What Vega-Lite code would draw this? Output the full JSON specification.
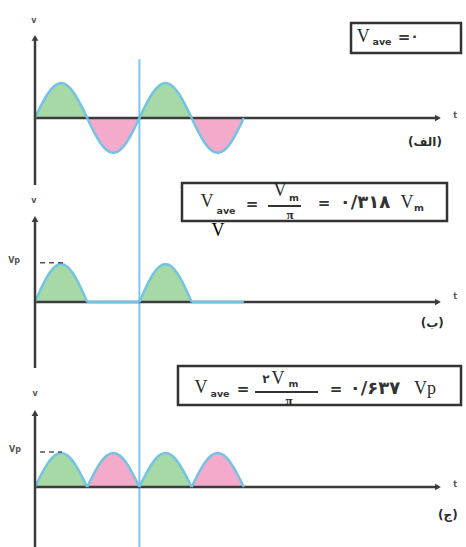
{
  "$schema": "https://vega.github.io/schema/vega-lite/v6.json",
  "padding": 0,
  "background": "white",
  "spacing": 0,
  "bounds": "flush",
  "config": {"view": {"stroke": null}, "axis": {"disable": true}, "legend": {"disable": true}},
  "datasets": {
    "wave": [
      {"panel":"a","hump":1,"phase":"first","t":0,"v":0},{"panel":"a","hump":1,"phase":"first","t":0.125,"v":0.3827},{"panel":"a","hump":1,"phase":"first","t":0.25,"v":0.7071},{"panel":"a","hump":1,"phase":"first","t":0.375,"v":0.9239},{"panel":"a","hump":1,"phase":"first","t":0.5,"v":1},{"panel":"a","hump":1,"phase":"first","t":0.625,"v":0.9239},{"panel":"a","hump":1,"phase":"first","t":0.75,"v":0.7071},{"panel":"a","hump":1,"phase":"first","t":0.875,"v":0.3827},{"panel":"a","hump":1,"phase":"first","t":1,"v":0},
      {"panel":"a","hump":2,"phase":"second","t":1,"v":0},{"panel":"a","hump":2,"phase":"second","t":1.125,"v":-0.3827},{"panel":"a","hump":2,"phase":"second","t":1.25,"v":-0.7071},{"panel":"a","hump":2,"phase":"second","t":1.375,"v":-0.9239},{"panel":"a","hump":2,"phase":"second","t":1.5,"v":-1},{"panel":"a","hump":2,"phase":"second","t":1.625,"v":-0.9239},{"panel":"a","hump":2,"phase":"second","t":1.75,"v":-0.7071},{"panel":"a","hump":2,"phase":"second","t":1.875,"v":-0.3827},{"panel":"a","hump":2,"phase":"second","t":2,"v":0},
      {"panel":"a","hump":3,"phase":"first","t":2,"v":0},{"panel":"a","hump":3,"phase":"first","t":2.125,"v":0.3827},{"panel":"a","hump":3,"phase":"first","t":2.25,"v":0.7071},{"panel":"a","hump":3,"phase":"first","t":2.375,"v":0.9239},{"panel":"a","hump":3,"phase":"first","t":2.5,"v":1},{"panel":"a","hump":3,"phase":"first","t":2.625,"v":0.9239},{"panel":"a","hump":3,"phase":"first","t":2.75,"v":0.7071},{"panel":"a","hump":3,"phase":"first","t":2.875,"v":0.3827},{"panel":"a","hump":3,"phase":"first","t":3,"v":0},
      {"panel":"a","hump":4,"phase":"second","t":3,"v":0},{"panel":"a","hump":4,"phase":"second","t":3.125,"v":-0.3827},{"panel":"a","hump":4,"phase":"second","t":3.25,"v":-0.7071},{"panel":"a","hump":4,"phase":"second","t":3.375,"v":-0.9239},{"panel":"a","hump":4,"phase":"second","t":3.5,"v":-1},{"panel":"a","hump":4,"phase":"second","t":3.625,"v":-0.9239},{"panel":"a","hump":4,"phase":"second","t":3.75,"v":-0.7071},{"panel":"a","hump":4,"phase":"second","t":3.875,"v":-0.3827},{"panel":"a","hump":4,"phase":"second","t":4,"v":0},

      {"panel":"b","hump":1,"phase":"first","t":0,"v":0},{"panel":"b","hump":1,"phase":"first","t":0.125,"v":0.3827},{"panel":"b","hump":1,"phase":"first","t":0.25,"v":0.7071},{"panel":"b","hump":1,"phase":"first","t":0.375,"v":0.9239},{"panel":"b","hump":1,"phase":"first","t":0.5,"v":1},{"panel":"b","hump":1,"phase":"first","t":0.625,"v":0.9239},{"panel":"b","hump":1,"phase":"first","t":0.75,"v":0.7071},{"panel":"b","hump":1,"phase":"first","t":0.875,"v":0.3827},{"panel":"b","hump":1,"phase":"first","t":1,"v":0},
      {"panel":"b","hump":2,"phase":"none","t":1,"v":0},{"panel":"b","hump":2,"phase":"none","t":2,"v":0},
      {"panel":"b","hump":3,"phase":"first","t":2,"v":0},{"panel":"b","hump":3,"phase":"first","t":2.125,"v":0.3827},{"panel":"b","hump":3,"phase":"first","t":2.25,"v":0.7071},{"panel":"b","hump":3,"phase":"first","t":2.375,"v":0.9239},{"panel":"b","hump":3,"phase":"first","t":2.5,"v":1},{"panel":"b","hump":3,"phase":"first","t":2.625,"v":0.9239},{"panel":"b","hump":3,"phase":"first","t":2.75,"v":0.7071},{"panel":"b","hump":3,"phase":"first","t":2.875,"v":0.3827},{"panel":"b","hump":3,"phase":"first","t":3,"v":0},
      {"panel":"b","hump":4,"phase":"none","t":3,"v":0},{"panel":"b","hump":4,"phase":"none","t":4,"v":0},

      {"panel":"c","hump":1,"phase":"first","t":0,"v":0},{"panel":"c","hump":1,"phase":"first","t":0.125,"v":0.3827},{"panel":"c","hump":1,"phase":"first","t":0.25,"v":0.7071},{"panel":"c","hump":1,"phase":"first","t":0.375,"v":0.9239},{"panel":"c","hump":1,"phase":"first","t":0.5,"v":1},{"panel":"c","hump":1,"phase":"first","t":0.625,"v":0.9239},{"panel":"c","hump":1,"phase":"first","t":0.75,"v":0.7071},{"panel":"c","hump":1,"phase":"first","t":0.875,"v":0.3827},{"panel":"c","hump":1,"phase":"first","t":1,"v":0},
      {"panel":"c","hump":2,"phase":"second","t":1,"v":0},{"panel":"c","hump":2,"phase":"second","t":1.125,"v":0.3827},{"panel":"c","hump":2,"phase":"second","t":1.25,"v":0.7071},{"panel":"c","hump":2,"phase":"second","t":1.375,"v":0.9239},{"panel":"c","hump":2,"phase":"second","t":1.5,"v":1},{"panel":"c","hump":2,"phase":"second","t":1.625,"v":0.9239},{"panel":"c","hump":2,"phase":"second","t":1.75,"v":0.7071},{"panel":"c","hump":2,"phase":"second","t":1.875,"v":0.3827},{"panel":"c","hump":2,"phase":"second","t":2,"v":0},
      {"panel":"c","hump":3,"phase":"first","t":2,"v":0},{"panel":"c","hump":3,"phase":"first","t":2.125,"v":0.3827},{"panel":"c","hump":3,"phase":"first","t":2.25,"v":0.7071},{"panel":"c","hump":3,"phase":"first","t":2.375,"v":0.9239},{"panel":"c","hump":3,"phase":"first","t":2.5,"v":1},{"panel":"c","hump":3,"phase":"first","t":2.625,"v":0.9239},{"panel":"c","hump":3,"phase":"first","t":2.75,"v":0.7071},{"panel":"c","hump":3,"phase":"first","t":2.875,"v":0.3827},{"panel":"c","hump":3,"phase":"first","t":3,"v":0},
      {"panel":"c","hump":4,"phase":"second","t":3,"v":0},{"panel":"c","hump":4,"phase":"second","t":3.125,"v":0.3827},{"panel":"c","hump":4,"phase":"second","t":3.25,"v":0.7071},{"panel":"c","hump":4,"phase":"second","t":3.375,"v":0.9239},{"panel":"c","hump":4,"phase":"second","t":3.5,"v":1},{"panel":"c","hump":4,"phase":"second","t":3.625,"v":0.9239},{"panel":"c","hump":4,"phase":"second","t":3.75,"v":0.7071},{"panel":"c","hump":4,"phase":"second","t":3.875,"v":0.3827},{"panel":"c","hump":4,"phase":"second","t":4,"v":0}
    ],
    "frame": [
      {"panel":"a","tStart":0,"vTop":2.29,"vBottom":-1.9143,"tEnd":7.72,"cursorT":2,"cursorTop":1.68,"cursorBottom":-1.9143},
      {"panel":"b","tStart":0,"vTop":2.184,"vBottom":-1.7368,"tEnd":7.72,"cursorT":2,"cursorTop":3.0789,"cursorBottom":-1.7368},
      {"panel":"c","tStart":0,"vTop":2.176,"vBottom":-1.7647,"tEnd":7.72,"cursorT":2,"cursorTop":3.5,"cursorBottom":-1.7647}
    ],
    "dashes": [
      {"panel":"b","t":0.096,"t2":0.536,"v":1.03},
      {"panel":"c","t":0.096,"t2":0.517,"v":1.03}
    ],
    "boxes": [
      {"panel":"a","t":6.054,"t2":8.161,"v":2.714,"v2":1.857},
      {"panel":"b","t":2.816,"t2":7.893,"v":3.132,"v2":2.132},
      {"panel":"c","t":2.739,"t2":8.161,"v":3.559,"v2":2.412}
    ],
    "fracs": [
      {"panel":"b","t":4.464,"t2":5.096,"v":2.526},
      {"panel":"c","t":4.215,"t2":5.421,"v":2.794}
    ],
    "notes": [
      {"panel":"a","kind":"axislabel","t":-0.02,"v":2.77,"text":"v"},
      {"panel":"a","kind":"axislabel","t":8.05,"v":0.06,"text":"t"},
      {"panel":"a","kind":"tag","t":7.47,"v":-0.69,"text":"(الف)"},
      {"panel":"a","kind":"var","t":6.29,"v":2.31,"text":"V"},
      {"panel":"a","kind":"sub","t":6.648,"v":2.17,"text":"ave"},
      {"panel":"a","kind":"op","t":7.07,"v":2.31,"text":"="},
      {"panel":"a","kind":"numsm","t":7.27,"v":2.31,"text":"۰"},

      {"panel":"b","kind":"axislabel","t":-0.02,"v":2.658,"text":"v"},
      {"panel":"b","kind":"axislabel","t":-0.4,"v":1.08,"text":"Vp"},
      {"panel":"b","kind":"axislabel","t":8.05,"v":0.13,"text":"t"},
      {"panel":"b","kind":"tag","t":7.61,"v":-0.553,"text":"(ب)"},
      {"panel":"b","kind":"var","t":3.295,"v":2.632,"text":"V"},
      {"panel":"b","kind":"sub","t":3.659,"v":2.395,"text":"ave"},
      {"panel":"b","kind":"op","t":4.157,"v":2.58,"text":"="},
      {"panel":"b","kind":"numvar","t":4.693,"v":2.92,"text":"V"},
      {"panel":"b","kind":"sub","t":4.962,"v":2.74,"text":"m"},
      {"panel":"b","kind":"pi","t":4.885,"v":2.3,"text":"π"},
      {"panel":"b","kind":"op","t":5.536,"v":2.605,"text":"="},
      {"panel":"b","kind":"num","t":6.322,"v":2.605,"text":"۰/۳۱۸"},
      {"panel":"b","kind":"var","t":7.126,"v":2.605,"text":"V"},
      {"panel":"b","kind":"sub","t":7.356,"v":2.474,"text":"m"},
      {"panel":"b","kind":"stray","t":3.506,"v":1.868,"text":"V"},

      {"panel":"c","kind":"axislabel","t":0,"v":2.735,"text":"v"},
      {"panel":"c","kind":"axislabel","t":-0.383,"v":1.088,"text":"Vp"},
      {"panel":"c","kind":"axislabel","t":8.05,"v":0.06,"text":"t"},
      {"panel":"c","kind":"tag","t":7.91,"v":-0.824,"text":"(ج)"},
      {"panel":"c","kind":"var","t":3.18,"v":2.912,"text":"V"},
      {"panel":"c","kind":"sub","t":3.544,"v":2.735,"text":"ave"},
      {"panel":"c","kind":"op","t":3.985,"v":2.882,"text":"="},
      {"panel":"c","kind":"numsm","t":4.425,"v":3.18,"text":"۲"},
      {"panel":"c","kind":"numvar","t":4.655,"v":3.18,"text":"V"},
      {"panel":"c","kind":"sub","t":4.95,"v":3.03,"text":"m"},
      {"panel":"c","kind":"pi","t":4.866,"v":2.529,"text":"π"},
      {"panel":"c","kind":"op","t":5.766,"v":2.882,"text":"="},
      {"panel":"c","kind":"num","t":6.513,"v":2.882,"text":"۰/۶۳۷"},
      {"panel":"c","kind":"var","t":7.471,"v":2.882,"text":"Vp"}
    ]
  },
  "vconcat": [
    {
      "width": 466, "height": 185,
      "layer": [
        {"data":{"name":"wave"},"transform":[{"filter":"datum.panel=='a' && datum.phase!='none'"}],
         "mark":{"type":"area","interpolate":"monotone"},
         "encoding":{"x":{"field":"t","type":"quantitative","scale":{"domain":[-0.6705,8.2567],"nice":false,"zero":false}},
                     "y":{"field":"v","type":"quantitative","scale":{"domain":[-1.9143,3.3714],"nice":false,"zero":false}},
                     "color":{"field":"phase","type":"nominal","scale":{"domain":["first","second"],"range":["#a7d9a6","#f3aacb"]}},
                     "detail":{"field":"hump","type":"nominal"}}},
        {"data":{"name":"frame"},"transform":[{"filter":"datum.panel=='a'"}],"mark":{"type":"rule","color":"#7cc7ee","strokeWidth":2},
         "encoding":{"x":{"field":"cursorT","type":"quantitative"},"y":{"field":"cursorTop","type":"quantitative"},"y2":{"field":"cursorBottom"}}},
        {"data":{"name":"frame"},"transform":[{"filter":"datum.panel=='a'"}],"mark":{"type":"rule","color":"#3b3b3b","strokeWidth":2.5},
         "encoding":{"x":{"field":"tStart","type":"quantitative"},"x2":{"field":"tEnd"},"y":{"datum":0,"type":"quantitative"}}},
        {"data":{"name":"wave"},"transform":[{"filter":"datum.panel=='a'"}],"mark":{"type":"line","interpolate":"monotone","color":"#72c3e4","strokeWidth":2.5},
         "encoding":{"x":{"field":"t","type":"quantitative"},"y":{"field":"v","type":"quantitative"},"detail":{"field":"hump","type":"nominal"}}},
        {"data":{"name":"frame"},"transform":[{"filter":"datum.panel=='a'"}],"mark":{"type":"rule","color":"#3b3b3b","strokeWidth":2.5},
         "encoding":{"x":{"field":"tStart","type":"quantitative"},"y":{"field":"vTop","type":"quantitative"},"y2":{"field":"vBottom"}}},
        {"data":{"name":"frame"},"transform":[{"filter":"datum.panel=='a'"}],"mark":{"type":"point","shape":"triangle-up","filled":true,"color":"#3b3b3b","size":45,"opacity":1},
         "encoding":{"x":{"field":"tStart","type":"quantitative"},"y":{"field":"vTop","type":"quantitative"}}},
        {"data":{"name":"frame"},"transform":[{"filter":"datum.panel=='a'"}],"mark":{"type":"point","shape":"triangle-right","filled":true,"color":"#3b3b3b","size":45,"opacity":1},
         "encoding":{"x":{"field":"tEnd","type":"quantitative"},"y":{"datum":0,"type":"quantitative"}}},
        {"data":{"name":"boxes"},"transform":[{"filter":"datum.panel=='a'"}],"mark":{"type":"rect","fill":"white","stroke":"#333333","strokeWidth":2.5},
         "encoding":{"x":{"field":"t","type":"quantitative"},"x2":{"field":"t2"},"y":{"field":"v","type":"quantitative"},"y2":{"field":"v2"}}},
        {"data":{"name":"notes"},"transform":[{"filter":"datum.panel=='a' && datum.kind=='axislabel'"}],"mark":{"type":"text","font":"DejaVu Sans","fontWeight":"bold","fontSize":8,"color":"#555555","align":"center","baseline":"middle"},
         "encoding":{"x":{"field":"t","type":"quantitative"},"y":{"field":"v","type":"quantitative"},"text":{"field":"text","type":"nominal"}}},
        {"data":{"name":"notes"},"transform":[{"filter":"datum.panel=='a' && datum.kind=='tag'"}],"mark":{"type":"text","font":"DejaVu Sans","fontWeight":"bold","fontSize":12,"color":"#2b2b2b","align":"center","baseline":"middle"},
         "encoding":{"x":{"field":"t","type":"quantitative"},"y":{"field":"v","type":"quantitative"},"text":{"field":"text","type":"nominal"}}},
        {"data":{"name":"notes"},"transform":[{"filter":"datum.panel=='a' && datum.kind=='var'"}],"mark":{"type":"text","font":"Liberation Serif","fontSize":18,"color":"#2b2b2b","align":"center","baseline":"middle"},
         "encoding":{"x":{"field":"t","type":"quantitative"},"y":{"field":"v","type":"quantitative"},"text":{"field":"text","type":"nominal"}}},
        {"data":{"name":"notes"},"transform":[{"filter":"datum.panel=='a' && datum.kind=='sub'"}],"mark":{"type":"text","font":"DejaVu Sans","fontWeight":"bold","fontSize":9.5,"color":"#333333","align":"center","baseline":"middle"},
         "encoding":{"x":{"field":"t","type":"quantitative"},"y":{"field":"v","type":"quantitative"},"text":{"field":"text","type":"nominal"}}},
        {"data":{"name":"notes"},"transform":[{"filter":"datum.panel=='a' && datum.kind=='op'"}],"mark":{"type":"text","font":"DejaVu Sans","fontWeight":"bold","fontSize":15,"color":"#333333","align":"center","baseline":"middle"},
         "encoding":{"x":{"field":"t","type":"quantitative"},"y":{"field":"v","type":"quantitative"},"text":{"field":"text","type":"nominal"}}},
        {"data":{"name":"notes"},"transform":[{"filter":"datum.panel=='a' && datum.kind=='numsm'"}],"mark":{"type":"text","font":"DejaVu Sans","fontWeight":"bold","fontSize":14,"color":"#333333","align":"center","baseline":"middle"},
         "encoding":{"x":{"field":"t","type":"quantitative"},"y":{"field":"v","type":"quantitative"},"text":{"field":"text","type":"nominal"}}}
      ]
    },
    {
      "width": 466, "height": 183,
      "layer": [
        {"data":{"name":"wave"},"transform":[{"filter":"datum.panel=='b' && datum.phase!='none'"}],
         "mark":{"type":"area","interpolate":"monotone"},
         "encoding":{"x":{"field":"t","type":"quantitative","scale":{"domain":[-0.6705,8.2567],"nice":false,"zero":false}},
                     "y":{"field":"v","type":"quantitative","scale":{"domain":[-1.7368,3.0789],"nice":false,"zero":false}},
                     "color":{"field":"phase","type":"nominal","scale":{"domain":["first","second"],"range":["#a7d9a6","#f3aacb"]}},
                     "detail":{"field":"hump","type":"nominal"}}},
        {"data":{"name":"frame"},"transform":[{"filter":"datum.panel=='b'"}],"mark":{"type":"rule","color":"#7cc7ee","strokeWidth":2},
         "encoding":{"x":{"field":"cursorT","type":"quantitative"},"y":{"field":"cursorTop","type":"quantitative"},"y2":{"field":"cursorBottom"}}},
        {"data":{"name":"frame"},"transform":[{"filter":"datum.panel=='b'"}],"mark":{"type":"rule","color":"#3b3b3b","strokeWidth":2.5},
         "encoding":{"x":{"field":"tStart","type":"quantitative"},"x2":{"field":"tEnd"},"y":{"datum":0,"type":"quantitative"}}},
        {"data":{"name":"wave"},"transform":[{"filter":"datum.panel=='b'"}],"mark":{"type":"line","interpolate":"monotone","color":"#72c3e4","strokeWidth":2.5},
         "encoding":{"x":{"field":"t","type":"quantitative"},"y":{"field":"v","type":"quantitative"},"detail":{"field":"hump","type":"nominal"}}},
        {"data":{"name":"frame"},"transform":[{"filter":"datum.panel=='b'"}],"mark":{"type":"rule","color":"#3b3b3b","strokeWidth":2.5},
         "encoding":{"x":{"field":"tStart","type":"quantitative"},"y":{"field":"vTop","type":"quantitative"},"y2":{"field":"vBottom"}}},
        {"data":{"name":"frame"},"transform":[{"filter":"datum.panel=='b'"}],"mark":{"type":"point","shape":"triangle-up","filled":true,"color":"#3b3b3b","size":45,"opacity":1},
         "encoding":{"x":{"field":"tStart","type":"quantitative"},"y":{"field":"vTop","type":"quantitative"}}},
        {"data":{"name":"frame"},"transform":[{"filter":"datum.panel=='b'"}],"mark":{"type":"point","shape":"triangle-right","filled":true,"color":"#3b3b3b","size":45,"opacity":1},
         "encoding":{"x":{"field":"tEnd","type":"quantitative"},"y":{"datum":0,"type":"quantitative"}}},
        {"data":{"name":"dashes"},"transform":[{"filter":"datum.panel=='b'"}],"mark":{"type":"rule","color":"#555555","strokeWidth":1.5,"strokeDash":[5,4]},
         "encoding":{"x":{"field":"t","type":"quantitative"},"x2":{"field":"t2"},"y":{"field":"v","type":"quantitative"}}},
        {"data":{"name":"boxes"},"transform":[{"filter":"datum.panel=='b'"}],"mark":{"type":"rect","fill":"white","stroke":"#333333","strokeWidth":2.5},
         "encoding":{"x":{"field":"t","type":"quantitative"},"x2":{"field":"t2"},"y":{"field":"v","type":"quantitative"},"y2":{"field":"v2"}}},
        {"data":{"name":"fracs"},"transform":[{"filter":"datum.panel=='b'"}],"mark":{"type":"rule","color":"#333333","strokeWidth":2},
         "encoding":{"x":{"field":"t","type":"quantitative"},"x2":{"field":"t2"},"y":{"field":"v","type":"quantitative"}}},
        {"data":{"name":"notes"},"transform":[{"filter":"datum.panel=='b' && datum.kind=='axislabel'"}],"mark":{"type":"text","font":"DejaVu Sans","fontWeight":"bold","fontSize":8,"color":"#555555","align":"center","baseline":"middle"},
         "encoding":{"x":{"field":"t","type":"quantitative"},"y":{"field":"v","type":"quantitative"},"text":{"field":"text","type":"nominal"}}},
        {"data":{"name":"notes"},"transform":[{"filter":"datum.panel=='b' && datum.kind=='tag'"}],"mark":{"type":"text","font":"DejaVu Sans","fontWeight":"bold","fontSize":12,"color":"#2b2b2b","align":"center","baseline":"middle"},
         "encoding":{"x":{"field":"t","type":"quantitative"},"y":{"field":"v","type":"quantitative"},"text":{"field":"text","type":"nominal"}}},
        {"data":{"name":"notes"},"transform":[{"filter":"datum.panel=='b' && (datum.kind=='var' || datum.kind=='numvar')"}],"mark":{"type":"text","font":"Liberation Serif","fontSize":18,"color":"#2b2b2b","align":"center","baseline":"middle"},
         "encoding":{"x":{"field":"t","type":"quantitative"},"y":{"field":"v","type":"quantitative"},"text":{"field":"text","type":"nominal"}}},
        {"data":{"name":"notes"},"transform":[{"filter":"datum.panel=='b' && datum.kind=='pi'"}],"mark":{"type":"text","font":"Liberation Serif","fontWeight":"bold","fontSize":13,"color":"#2b2b2b","align":"center","baseline":"middle"},
         "encoding":{"x":{"field":"t","type":"quantitative"},"y":{"field":"v","type":"quantitative"},"text":{"field":"text","type":"nominal"}}},
        {"data":{"name":"notes"},"transform":[{"filter":"datum.panel=='b' && datum.kind=='stray'"}],"mark":{"type":"text","font":"Liberation Serif","fontSize":18,"color":"#000000","align":"center","baseline":"middle"},
         "encoding":{"x":{"field":"t","type":"quantitative"},"y":{"field":"v","type":"quantitative"},"text":{"field":"text","type":"nominal"}}},
        {"data":{"name":"notes"},"transform":[{"filter":"datum.panel=='b' && datum.kind=='sub'"}],"mark":{"type":"text","font":"DejaVu Sans","fontWeight":"bold","fontSize":9.5,"color":"#333333","align":"center","baseline":"middle"},
         "encoding":{"x":{"field":"t","type":"quantitative"},"y":{"field":"v","type":"quantitative"},"text":{"field":"text","type":"nominal"}}},
        {"data":{"name":"notes"},"transform":[{"filter":"datum.panel=='b' && datum.kind=='op'"}],"mark":{"type":"text","font":"DejaVu Sans","fontWeight":"bold","fontSize":15,"color":"#333333","align":"center","baseline":"middle"},
         "encoding":{"x":{"field":"t","type":"quantitative"},"y":{"field":"v","type":"quantitative"},"text":{"field":"text","type":"nominal"}}},
        {"data":{"name":"notes"},"transform":[{"filter":"datum.panel=='b' && datum.kind=='num'"}],"mark":{"type":"text","font":"DejaVu Sans","fontWeight":"bold","fontSize":18,"color":"#333333","align":"center","baseline":"middle"},
         "encoding":{"x":{"field":"t","type":"quantitative"},"y":{"field":"v","type":"quantitative"},"text":{"field":"text","type":"nominal"}}}
      ]
    },
    {
      "width": 466, "height": 179,
      "layer": [
        {"data":{"name":"wave"},"transform":[{"filter":"datum.panel=='c' && datum.phase!='none'"}],
         "mark":{"type":"area","interpolate":"monotone"},
         "encoding":{"x":{"field":"t","type":"quantitative","scale":{"domain":[-0.6705,8.2567],"nice":false,"zero":false}},
                     "y":{"field":"v","type":"quantitative","scale":{"domain":[-1.7647,3.5],"nice":false,"zero":false}},
                     "color":{"field":"phase","type":"nominal","scale":{"domain":["first","second"],"range":["#a7d9a6","#f3aacb"]}},
                     "detail":{"field":"hump","type":"nominal"}}},
        {"data":{"name":"frame"},"transform":[{"filter":"datum.panel=='c'"}],"mark":{"type":"rule","color":"#7cc7ee","strokeWidth":2},
         "encoding":{"x":{"field":"cursorT","type":"quantitative"},"y":{"field":"cursorTop","type":"quantitative"},"y2":{"field":"cursorBottom"}}},
        {"data":{"name":"frame"},"transform":[{"filter":"datum.panel=='c'"}],"mark":{"type":"rule","color":"#3b3b3b","strokeWidth":2.5},
         "encoding":{"x":{"field":"tStart","type":"quantitative"},"x2":{"field":"tEnd"},"y":{"datum":0,"type":"quantitative"}}},
        {"data":{"name":"wave"},"transform":[{"filter":"datum.panel=='c'"}],"mark":{"type":"line","interpolate":"monotone","color":"#72c3e4","strokeWidth":2.5},
         "encoding":{"x":{"field":"t","type":"quantitative"},"y":{"field":"v","type":"quantitative"},"detail":{"field":"hump","type":"nominal"}}},
        {"data":{"name":"frame"},"transform":[{"filter":"datum.panel=='c'"}],"mark":{"type":"rule","color":"#3b3b3b","strokeWidth":2.5},
         "encoding":{"x":{"field":"tStart","type":"quantitative"},"y":{"field":"vTop","type":"quantitative"},"y2":{"field":"vBottom"}}},
        {"data":{"name":"frame"},"transform":[{"filter":"datum.panel=='c'"}],"mark":{"type":"point","shape":"triangle-up","filled":true,"color":"#3b3b3b","size":45,"opacity":1},
         "encoding":{"x":{"field":"tStart","type":"quantitative"},"y":{"field":"vTop","type":"quantitative"}}},
        {"data":{"name":"frame"},"transform":[{"filter":"datum.panel=='c'"}],"mark":{"type":"point","shape":"triangle-right","filled":true,"color":"#3b3b3b","size":45,"opacity":1},
         "encoding":{"x":{"field":"tEnd","type":"quantitative"},"y":{"datum":0,"type":"quantitative"}}},
        {"data":{"name":"dashes"},"transform":[{"filter":"datum.panel=='c'"}],"mark":{"type":"rule","color":"#555555","strokeWidth":1.5,"strokeDash":[5,4]},
         "encoding":{"x":{"field":"t","type":"quantitative"},"x2":{"field":"t2"},"y":{"field":"v","type":"quantitative"}}},
        {"data":{"name":"boxes"},"transform":[{"filter":"datum.panel=='c'"}],"mark":{"type":"rect","fill":"white","stroke":"#333333","strokeWidth":2.5},
         "encoding":{"x":{"field":"t","type":"quantitative"},"x2":{"field":"t2"},"y":{"field":"v","type":"quantitative"},"y2":{"field":"v2"}}},
        {"data":{"name":"fracs"},"transform":[{"filter":"datum.panel=='c'"}],"mark":{"type":"rule","color":"#333333","strokeWidth":2},
         "encoding":{"x":{"field":"t","type":"quantitative"},"x2":{"field":"t2"},"y":{"field":"v","type":"quantitative"}}},
        {"data":{"name":"notes"},"transform":[{"filter":"datum.panel=='c' && datum.kind=='axislabel'"}],"mark":{"type":"text","font":"DejaVu Sans","fontWeight":"bold","fontSize":8,"color":"#555555","align":"center","baseline":"middle"},
         "encoding":{"x":{"field":"t","type":"quantitative"},"y":{"field":"v","type":"quantitative"},"text":{"field":"text","type":"nominal"}}},
        {"data":{"name":"notes"},"transform":[{"filter":"datum.panel=='c' && datum.kind=='tag'"}],"mark":{"type":"text","font":"DejaVu Sans","fontWeight":"bold","fontSize":12,"color":"#2b2b2b","align":"center","baseline":"middle"},
         "encoding":{"x":{"field":"t","type":"quantitative"},"y":{"field":"v","type":"quantitative"},"text":{"field":"text","type":"nominal"}}},
        {"data":{"name":"notes"},"transform":[{"filter":"datum.panel=='c' && (datum.kind=='var' || datum.kind=='numvar')"}],"mark":{"type":"text","font":"Liberation Serif","fontSize":18,"color":"#2b2b2b","align":"center","baseline":"middle"},
         "encoding":{"x":{"field":"t","type":"quantitative"},"y":{"field":"v","type":"quantitative"},"text":{"field":"text","type":"nominal"}}},
        {"data":{"name":"notes"},"transform":[{"filter":"datum.panel=='c' && datum.kind=='pi'"}],"mark":{"type":"text","font":"Liberation Serif","fontWeight":"bold","fontSize":13,"color":"#2b2b2b","align":"center","baseline":"middle"},
         "encoding":{"x":{"field":"t","type":"quantitative"},"y":{"field":"v","type":"quantitative"},"text":{"field":"text","type":"nominal"}}},
        {"data":{"name":"notes"},"transform":[{"filter":"datum.panel=='c' && datum.kind=='numsm'"}],"mark":{"type":"text","font":"DejaVu Sans","fontWeight":"bold","fontSize":12,"color":"#333333","align":"center","baseline":"middle"},
         "encoding":{"x":{"field":"t","type":"quantitative"},"y":{"field":"v","type":"quantitative"},"text":{"field":"text","type":"nominal"}}},
        {"data":{"name":"notes"},"transform":[{"filter":"datum.panel=='c' && datum.kind=='sub'"}],"mark":{"type":"text","font":"DejaVu Sans","fontWeight":"bold","fontSize":9.5,"color":"#333333","align":"center","baseline":"middle"},
         "encoding":{"x":{"field":"t","type":"quantitative"},"y":{"field":"v","type":"quantitative"},"text":{"field":"text","type":"nominal"}}},
        {"data":{"name":"notes"},"transform":[{"filter":"datum.panel=='c' && datum.kind=='op'"}],"mark":{"type":"text","font":"DejaVu Sans","fontWeight":"bold","fontSize":15,"color":"#333333","align":"center","baseline":"middle"},
         "encoding":{"x":{"field":"t","type":"quantitative"},"y":{"field":"v","type":"quantitative"},"text":{"field":"text","type":"nominal"}}},
        {"data":{"name":"notes"},"transform":[{"filter":"datum.panel=='c' && datum.kind=='num'"}],"mark":{"type":"text","font":"DejaVu Sans","fontWeight":"bold","fontSize":18,"color":"#333333","align":"center","baseline":"middle"},
         "encoding":{"x":{"field":"t","type":"quantitative"},"y":{"field":"v","type":"quantitative"},"text":{"field":"text","type":"nominal"}}}
      ]
    }
  ]
}
